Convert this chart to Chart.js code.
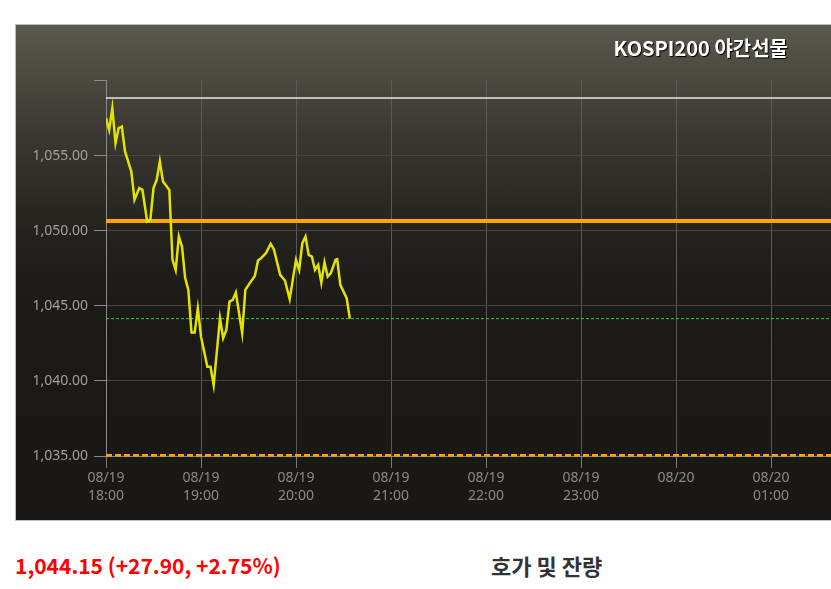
<!DOCTYPE html>
<html>
<head>
<meta charset="utf-8">
<script src="https://cdn.jsdelivr.net/npm/chart.js@4.4.0/dist/chart.umd.min.js"></script>
<style>
html, body { margin:0; padding:0; overflow:hidden; background:#fff; width:831px; height:589px; }
#box {
    position:absolute; left:15px; top:24px; width:1170px; height:495px;
    border:1px solid #bdbdbd;
    background:linear-gradient(to bottom, #5b584d 0%, #3a3831 22%, #24221e 42%, #1c1a16 58%, #1a1814 100%);
}
#wrap { position:absolute; left:0; top:0; width:1165px; height:495px; }
#titolo {
    position:absolute; top:8px; left:0; width:772px; text-align:right;
    font-family:"Noto Sans CJK KR", "Noto Sans", sans-serif; font-weight:bold; font-size:20px;
    color:#fff; text-shadow:1px 1px 1px #000;
}
#prezzo {
    position:absolute; left:15px; top:550px;
    font-family:"Noto Sans CJK KR", "Noto Sans", sans-serif; font-weight:bold; font-size:21px; color:#f00;
}
#hoga {
    position:absolute; left:491px; top:549px;
    font-family:"Noto Sans CJK KR", sans-serif; font-weight:bold; font-size:22px; color:#333;
}
</style>
</head>
<body>
<div id="box">
    <div id="wrap"><canvas id="grafico"></canvas></div>
    <div id="titolo">KOSPI200 야간선물</div>
</div>
<div id="prezzo">1,044.15 (+27.90, +2.75%)</div>
<div id="hoga">호가 및 잔량</div>
<script>
// minuti dalle 18:00
var minuti = [0,2,4,6,8,10,12,16,18,21,23,26,28,30,32,34,36,40,42,44,46,48,50,52,54,56,58,60,64,66,68,72,74,76,78,80,82,86,88,91,94,96,98,101,104,106,110,113,116,120,122,124,126,128,130,132,134,136,138,140,142,145,146,148,152,154];
var prezzi = [1057.51,1056.73,1058.18,1055.85,1056.85,1056.95,1055.29,1053.95,1052.07,1052.85,1052.73,1050.62,1050.73,1052.85,1053.40,1054.62,1053.29,1052.73,1048.07,1047.40,1049.62,1048.95,1046.85,1046.07,1043.22,1043.22,1044.85,1042.95,1040.95,1040.95,1039.73,1044.18,1042.85,1043.40,1045.29,1045.40,1045.89,1043.18,1046.07,1046.55,1047.00,1048.02,1048.18,1048.51,1049.13,1048.78,1047.07,1046.69,1045.45,1048.07,1047.40,1049.18,1049.62,1048.40,1048.29,1047.40,1047.73,1046.55,1047.89,1046.95,1047.18,1048.07,1048.11,1046.40,1045.51,1044.15];

var livelloAlto = 1058.85;     // linea bianca
var livelloArancio = 1050.65;  // linea arancio piena
var livelloBasso = 1035.05;    // linea arancio tratteggiata
var livelloAttuale = 1044.15;  // linea verde tratteggiata

var tickY = [1035,1040,1045,1050,1055,1060.05];
var etichetteX = [["08/19","18:00"],["08/19","19:00"],["08/19","20:00"],["08/19","21:00"],["08/19","22:00"],["08/19","23:00"],["08/20",""],["08/20","01:00"],["08/20","02:00"],["08/20","03:00"],["08/20","04:00"],["08/20","05:00"]];

var xMax = 660;

function linea(valore){
    return [{x:0,y:valore},{x:xMax,y:valore}];
}

var puntiPrezzo = [];
for(let i=0;i<minuti.length;i++){
    puntiPrezzo.push({x:minuti[i], y:prezzi[i]});
}

var ctx = document.getElementById("grafico");
var myChart = new Chart(ctx, {
    type: 'line',
    data: {
        datasets: [
            {
                data: puntiPrezzo,
                borderColor: "#e3e300",
                borderWidth: 2.5,
                pointRadius: 0,
                tension: 0,
                order: 0
            },
            {
                data: linea(livelloAlto),
                borderColor: "#e8e8e8",
                borderWidth: 1.5,
                pointRadius: 0,
                order: 1
            },
            {
                data: linea(livelloArancio),
                borderColor: "#ffa500",
                borderWidth: 4,
                pointRadius: 0,
                order: 1
            },
            {
                data: linea(livelloBasso),
                borderColor: "#ffa500",
                borderWidth: 2.5,
                borderDash: [6,3],
                pointRadius: 0,
                clip: 4,
                order: 1
            },
            {
                data: linea(livelloAttuale),
                borderColor: "#44cc44",
                borderWidth: 1,
                borderDash: [3,2],
                pointRadius: 0,
                order: 1
            }
        ]
    },
    options: {
        responsive: true,
        maintainAspectRatio: false,
        animation: false,
        events: [],
        layout: { padding: { top: 55, right: 30, left: 0, bottom: 0 } },
        plugins: {
            legend: { display: false },
            tooltip: { enabled: false }
        },
        scales: {
            x: {
                type: 'linear',
                min: 0,
                max: xMax,
                afterFit: function(scale){ scale.height = 64; },
                afterBuildTicks: function(scale){
                    scale.ticks = etichetteX.map((e,i) => ({value: i*60}));
                },
                border: { color: "#8a8a8a", width: 1 },
                grid: { color: "#5a5a5a", tickColor: "#7a7a7a", tickLength: 12, lineWidth: 1 },
                ticks: {
                    autoSkip: false,
                    maxRotation: 0,
                    padding: 1,
                    color: "#8a8a8a",
                    font: { family: "Noto Sans", size: 14, lineHeight: 1.3 },
                    callback: function(v){ return etichetteX[Math.round(v/60)]; }
                }
            },
            y: {
                min: 1035,
                max: 1060.05,
                afterFit: function(scale){ scale.width = 90; },
                afterBuildTicks: function(scale){
                    scale.ticks = tickY.map(v => ({value: v}));
                },
                border: { color: "#8a8a8a", width: 1 },
                grid: {
                    color: function(c){ return c.tick && c.tick.value > 1056 ? "rgba(0,0,0,0)" : "#474540"; },
                    tickColor: "#8a8a8a",
                    tickLength: 12
                },
                ticks: {
                    padding: 6,
                    color: "#a0a0a0",
                    font: { family: "Noto Sans", size: 14 },
                    callback: function(v){
                        if(v > 1056) return '';
                        return v.toLocaleString('en-US', {minimumFractionDigits:2, maximumFractionDigits:2});
                    }
                }
            }
        }
    }
});
</script>
</body>
</html>
